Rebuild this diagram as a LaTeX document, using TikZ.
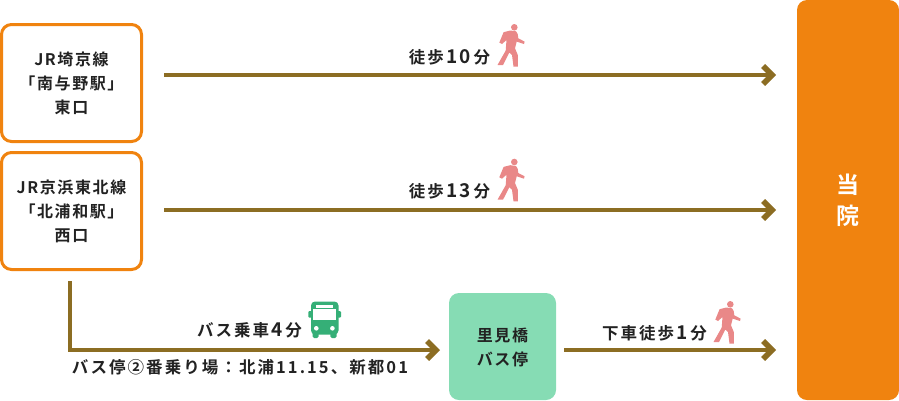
\documentclass[tikz,border=0pt]{standalone}
\usepackage{fontspec}
\setmainfont[LetterSpace=10]{Noto Sans CJK JP Bold}
\newfontfamily\wide[LetterSpace=12.5]{Noto Sans CJK JP Bold}
\definecolor{boxorange}{HTML}{F0830F}
\definecolor{linebrown}{HTML}{8C6D23}
\definecolor{stopgreen}{HTML}{86DCB4}
\definecolor{busgreen}{HTML}{35AF77}
\definecolor{walkpink}{HTML}{E98888}
\definecolor{inkdark}{HTML}{222222}
\newcommand{\nm}[1]{\kern2.5pt{\fontsize{19pt}{19pt}\selectfont #1}\kern2.5pt}
\usetikzlibrary{arrows.meta}
\tikzset{
  x=1pt,y=-1pt,
  station/.style={draw=boxorange,line width=3pt,rounded corners=10pt,fill=white,minimum width=140pt,minimum height=117pt,inner sep=0pt},
  stoplabel/.style={text=inkdark,font=\fontsize{16pt}{24pt}\selectfont,align=center,inner sep=0pt},
  textlabel/.style={text=inkdark,font=\wide\fontsize{16.5pt}{20pt}\selectfont,inner sep=0pt,anchor=base},
  route/.style={draw=linebrown,line width=4pt},
  routehead/.style={route,-{Straight Barb[length=9pt,width=18pt,line width=5.5pt]}},
}
\newcommand{\walker}[2]{%
  \begin{scope}[shift={(#1,#2)},x=1pt,y=-1pt]
    \fill[walkpink] (0,0) circle (3.3pt);
    \fill[walkpink] (-10.7,4.9) -- (-4,3.2) -- (1.7,4) -- (3.4,6.7) -- (4,11) -- (10.3,14.3) -- (9.7,16.7) -- (2.4,14.3) -- (0.7,21) -- (3.5,27.7) -- (3.5,39.3) -- (-0.8,39.3) -- (-2.3,27.7) -- (-5,25.3) -- (-11.3,37.7) -- (-16.8,37.7) -- (-8.6,23.3) -- (-7.8,12.7) -- (-12.3,16.7) -- (-15,15.3) -- cycle;
  \end{scope}}
\begin{document}
\begin{tikzpicture}
\useasboundingbox (0,0) rectangle (899,400);
\node[station] (st1) at (71.5,83) {};
\node[stoplabel] at (st1) {JR埼京線\\「南与野駅」\\東口};
\node[station] (st2) at (71.5,211) {};
\node[stoplabel] at (st2) {JR京浜東北線\\「北浦和駅」\\西口};
\fill[boxorange,rounded corners=10pt] (797,0) rectangle (899,400);
\node[text=white,font=\fontsize{23pt}{31pt}\selectfont,align=center,inner sep=0pt] (dest) at (848,200.5) {当\\院};
\fill[stopgreen,rounded corners=10pt] (449,293) rectangle (556,400);
\node[stoplabel] (stop) at (502.5,347) {里見橋\\バス停};
\coordinate (a1s) at (164,75);
\coordinate (a1e) at (776,75);
\coordinate (a2s) at (164,210);
\coordinate (a2e) at (776,210);
\coordinate (a3s) at (70,281);
\coordinate (a3c) at (70,350);
\coordinate (a3e) at (440,350);
\coordinate (a4s) at (564,350);
\coordinate (a4e) at (776,350);
\draw[routehead] (a1s) -- (a1e);
\draw[routehead] (a2s) -- (a2e);
\draw[routehead] (a3s) -- (a3c) -- (a3e);
\draw[routehead] (a4s) -- (a4e);
\node[textlabel] (t1) at (449.5,63) {徒歩\nm{10}分};
\node[textlabel] (t2) at (449.5,197) {徒歩\nm{13}分};
\node[textlabel] (t3) at (249.5,336) {バス乗車\nm{4}分};
\node[textlabel] (t4) at (240,373) {バス停②番乗り場：北浦11.15、新都01};
\node[textlabel] (t5) at (654.5,339) {下車徒歩\nm{1}分};
\walker{514.3}{27.3}
\walker{514.3}{162}
\walker{730.3}{304.3}
% bus
\begin{scope}
\fill[busgreen,rounded corners=4pt] (311,301.5) rectangle (338.5,334.5);
\fill[busgreen,rounded corners=1pt] (308.3,311) rectangle (341,317.7);
\fill[busgreen,rounded corners=1.5pt] (312.7,330) rectangle (318.5,338);
\fill[busgreen,rounded corners=1.5pt] (330.3,330) rectangle (336.5,338);
\fill[white] (313.3,309.3) rectangle (335.8,320);
\fill[white] (315.7,305.3) rectangle (333.3,307.6);
\fill[white] (316.3,328.3) circle (2.3pt);
\fill[white] (332.4,328.3) circle (2.3pt);
\end{scope}
\end{tikzpicture}
\end{document}
